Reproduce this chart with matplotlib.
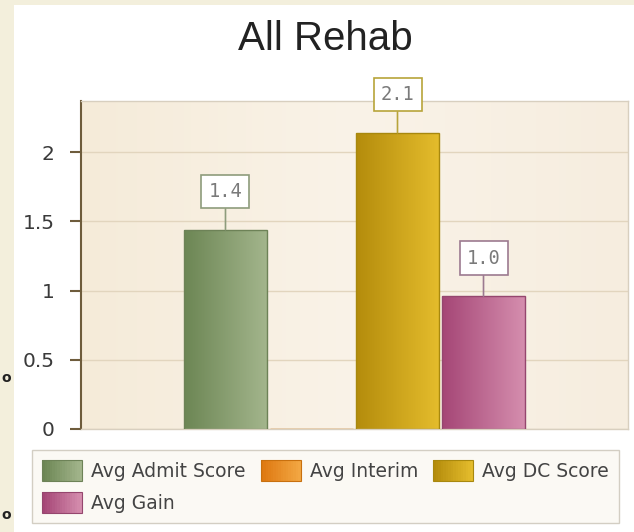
import matplotlib
matplotlib.use("Agg")
import matplotlib.pyplot as plt
import numpy as np
from matplotlib.colors import LinearSegmentedColormap, to_rgb
from matplotlib.legend_handler import HandlerBase
from matplotlib.patches import Patch, Rectangle

# data
categories = ["Avg Admit Score", "Avg Interim", "Avg DC Score", "Avg Gain"]
values = [1.44, 0.0, 2.14, 0.96]
yticks = [0, 0.5, 1, 1.5, 2]
ytick_labels = ["0", "0.5", "1", "1.5", "2"]

# gradient colours (left -> right) and outline / label-box colour
grad_left = ["#6c8654", "#de7810", "#b48c0c", "#a54676"]
grad_right = ["#a3b58c", "#f2a642", "#e4bc2c", "#d58eae"]
edge_cols = ["#6d8257", "#c8700e", "#a8880e", "#95466e"]
box_cols = ["#8e9c7c", "#c89050", "#b8a43a", "#9c7a90"]

W, H, DPI = 634, 532, 100
fig = plt.figure(figsize=(W / DPI, H / DPI), dpi=DPI, facecolor="white")

# cream outer strip, white panel
fig.patches.append(Rectangle((0, 0), 14 / W, 1, transform=fig.transFigure,
                             facecolor="#F3EFDC", edgecolor="none", zorder=-5))
fig.patches.append(Rectangle((0, 1 - 5 / H), 1, 5 / H, transform=fig.transFigure,
                             facecolor="#F3EFDC", edgecolor="none", zorder=-5))
# glyph fragments of a neighbouring panel at the left edge
for yy in (378, 515):
    fig.text(1 / W, 1 - yy / H, "o", fontsize=10, fontweight="bold", color="#222222",
             ha="left", va="center")

ax = fig.add_axes([81 / W, 1 - 429 / H, (628 - 81) / W, (429 - 100.5) / H])
ax.set_facecolor("#F6EDDD")

# soft background gradient
bg = LinearSegmentedColormap.from_list("bg", ["#F5EBD9", "#FAF3E8", "#F6EDDF"])
ax.imshow(np.linspace(0, 1, 256).reshape(1, -1), cmap=bg, aspect="auto",
          extent=[0, 1, 0, 1], transform=ax.transAxes, zorder=0)

x = (np.arange(len(categories)) - 1.5) * 1.0
width = 0.965
bars = ax.bar(x, values, width=width, color="none", edgecolor=edge_cols, linewidth=1, zorder=3)
for bar, c0, c1, v in zip(bars, grad_left, grad_right, values):
    if v <= 0:
        continue
    cmap = LinearSegmentedColormap.from_list("g", [c0, c1])
    im = ax.imshow(np.linspace(0, 1, 128).reshape(1, -1), cmap=cmap, aspect="auto",
                   extent=[bar.get_x(), bar.get_x() + bar.get_width(), 0, v], zorder=2)
    im.set_clip_path(bar)

for xi, v, bc in zip(x, values, box_cols):
    if v <= 0:
        continue
    ax.annotate(f"{v:.1f}", xy=(xi, v), xytext=(0, 38), textcoords="offset pixels",
                ha="center", va="center", fontsize=13.5, family="DejaVu Sans Mono",
                color="#7a7a7a", zorder=6, annotation_clip=False,
                bbox=dict(boxstyle="square,pad=0.38", fc="white", ec=bc, lw=1.2),
                arrowprops=dict(arrowstyle="-", color=bc, lw=1.2, shrinkA=0, shrinkB=0))

ax.set_xlim(-3.18, 3.18)
ax.set_ylim(0, 2.373)
ax.set_yticks(yticks)
ax.set_yticklabels(ytick_labels)
ax.set_xticks([])
ax.yaxis.grid(True, color="#E2D5BE", linewidth=1)
ax.set_axisbelow(True)
ax.tick_params(axis="y", length=8, width=1.5, color="#6E5C3C", pad=11,
               labelsize=14.5, labelcolor="#3a3a3a")
for side in ("top", "right", "bottom"):
    ax.spines[side].set_color("#D8CFBF")
    ax.spines[side].set_linewidth(1)
ax.spines["left"].set_color("#6E5C3C")
ax.spines["left"].set_linewidth(1.5)

fig.text(325 / W, 1 - 50 / H, "All Rehab", ha="center", va="baseline",
         fontsize=29, family="Liberation Sans", color="#222222")


class GradHandler(HandlerBase):
    def __init__(self, c0, c1, ec):
        super().__init__()
        self.c0, self.c1, self.ec = np.array(to_rgb(c0)), np.array(to_rgb(c1)), ec

    def create_artists(self, legend, orig_handle, xdescent, ydescent, width, height,
                       fontsize, trans):
        arts = []
        n = 16
        for i in range(n):
            t = i / (n - 1)
            col = self.c0 * (1 - t) + self.c1 * t
            arts.append(Rectangle((-xdescent + i * width / n, -ydescent), width / n * 1.05,
                                  height, facecolor=col, edgecolor="none", transform=trans))
        arts.append(Rectangle((-xdescent, -ydescent), width, height, facecolor="none",
                              edgecolor=self.ec, lw=0.8, transform=trans))
        return arts


handles = [Patch(label=c) for c in categories]
hmap = {h: GradHandler(c0, c1, ec) for h, c0, c1, ec in zip(handles, grad_left, grad_right, edge_cols)}
order = [0, 3, 1, 2]
leg = fig.legend([handles[i] for i in order], [categories[i] for i in order],
                 handler_map=hmap, ncol=3, loc="lower left",
                 bbox_to_anchor=(32 / W, 1 - 523 / H), bbox_transform=fig.transFigure,
                 fontsize=13.5, handlelength=2.13, handleheight=1.3, handletextpad=0.48,
                 columnspacing=0.8, labelspacing=0.6, borderpad=0.55, borderaxespad=0,
                 fancybox=False, frameon=True)
leg.get_frame().set_facecolor("#FBF8F2")
leg.get_frame().set_edgecolor("#C9C3B6")
leg.get_frame().set_linewidth(1)
for t in leg.get_texts():
    t.set_color("#444444")

fig.savefig("out.png", dpi=DPI)
